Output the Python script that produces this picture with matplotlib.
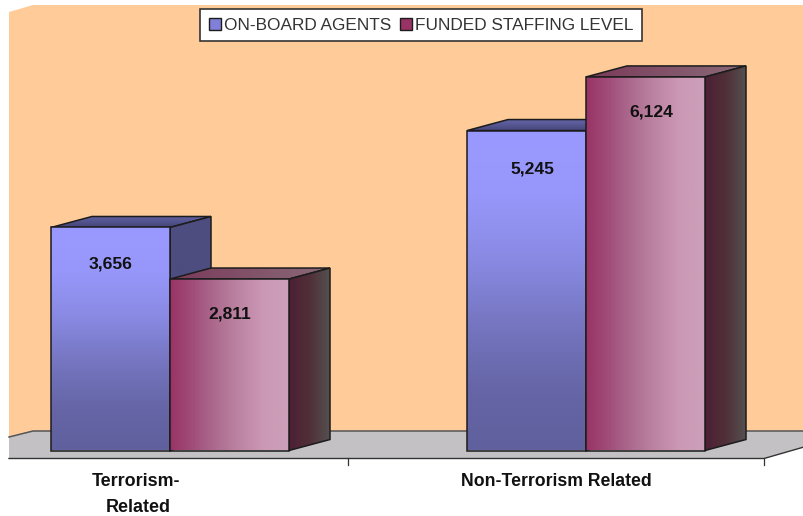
import numpy as np
import matplotlib
matplotlib.use("Agg")
import matplotlib.pyplot as plt
from matplotlib.colors import LinearSegmentedColormap
from matplotlib.patches import Patch, Polygon
from matplotlib.transforms import Affine2D

# Data
categories = ["Terrorism-\nRelated", "Non-Terrorism Related"]
series_names = ["ON-BOARD AGENTS", "FUNDED STAFFING LEVEL"]
on_board = [3656, 5245]
funded = [2811, 6124]

plt.rcParams['font.family'] = ['Liberation Sans', 'DejaVu Sans']

W, H = 804, 516
fig = plt.figure(figsize=(W / 100, H / 100), dpi=100, facecolor="white")
ax = fig.add_axes([0, 0, 1, 1])
ax.axis("off")

# scales: one category = 416 px, one unit = 0.061 px
px_per_cat = 416
px_per_unit = 0.061
ax.set_xlim(-170 / px_per_cat, (W - 170) / px_per_cat)
ax.set_ylim((450.5 - H) / px_per_unit, 450.5 / px_per_unit)
xlim, ylim = ax.get_xlim(), ax.get_ylim()

bar_w = 119 / px_per_cat
depth_x = 41 / px_per_cat
depth_y = 11 / px_per_unit

# pixel coordinates for the walls and floor
px = Affine2D().scale(1 / W, -1 / H).translate(0, 1) + fig.transFigure

LINE = "#1c1c1c"

# back wall
ax.add_patch(Polygon([(9, 12), (33, 5), (804, 5), (804, 432), (33, 432), (9, 437)],
                     closed=True, fc="#FFCC99", ec="none", transform=px, zorder=1))
# floor
ax.add_patch(Polygon([(9, 437), (33, 431), (804, 431), (804, 447), (764, 458), (9, 458)],
                     closed=True, fc="#C3C1C4", ec="none", transform=px, zorder=2))
ax.plot([9, 33, 804], [437, 431, 431], color="#555555", lw=1.1, transform=px, zorder=3)
ax.plot([9, 764, 804], [458.5, 458.5, 447], color="#333333", lw=1.0, transform=px, zorder=3)
for tx in [348, 764]:
    ax.plot([tx, tx], [458, 465], color="#333333", lw=0.9, transform=px, zorder=3)


def shade(poly, colors, vertical, z):
    # gradient clipped to a polygon, with a dark edge on top
    cmap = LinearSegmentedColormap.from_list("g", colors)
    grad = np.linspace(0, 1, 256)
    grad = grad[:, None] if vertical else grad[None, :]
    xs = [p[0] for p in poly]
    ys = [p[1] for p in poly]
    im = ax.imshow(grad, cmap=cmap, aspect="auto", origin="upper", zorder=z,
                   extent=(min(xs), max(xs), min(ys), max(ys)), interpolation="bilinear")
    outline = Polygon(poly, closed=True, fc="none", ec=LINE, lw=1.1, zorder=z + 0.1,
                      joinstyle="miter")
    ax.add_patch(outline)
    im.set_clip_path(Polygon(poly, closed=True, transform=ax.transData))


def bar3d(left, value, front, front_v, top, top_v, side, side_v, z):
    right = left + bar_w
    shade([(left, value), (left + depth_x, value + depth_y),
           (right + depth_x, value + depth_y), (right, value)], top, top_v, z)
    shade([(right, 0), (right + depth_x, depth_y),
           (right + depth_x, value + depth_y), (right, value)], side, side_v, z + 0.2)
    shade([(left, 0), (right, 0), (right, value), (left, value)], front, front_v, z + 0.4)


blue_front = ["#9999FF", "#9797FB", "#8A8AE4", "#7676C2", "#6666A8", "#60609E"]
blue_top = ["#6464A6", "#45457A"]
blue_side = ["#4D4D80", "#4D4D80"]
red_front = ["#993366", "#A14F7A", "#AE6E90", "#BE86A5", "#CC99B5", "#CCA0BA"]
red_top = ["#7A3A5A", "#8A6A78"]
red_side = ["#4D1F36", "#503038", "#555050"]

# the second group's labels sit a little right of the bar centres
label_shift = [0, 6 / px_per_cat]

for i in range(len(categories)):
    z = 5 + i * 5
    bar3d(i - bar_w, on_board[i], blue_front, True, blue_top, True, blue_side, False, z)
    bar3d(i, funded[i], red_front, False, red_top, False, red_side, False, z + 1)
    ax.text(i - bar_w / 2 + label_shift[i], on_board[i] - 600 - 30 * i, f"{on_board[i]:,}",
            ha="center", va="center", fontsize=12.6, fontweight="bold", color="#111111", zorder=30)
    ax.text(i + bar_w / 2 + label_shift[i], funded[i] - 580, f"{funded[i]:,}",
            ha="center", va="center", fontsize=12.6, fontweight="bold", color="#111111", zorder=30)

ax.set_xlim(xlim)
ax.set_ylim(ylim)

# category labels
ax.text(136, 482, "Terrorism-", ha="center", va="center", fontsize=12.9, fontweight="bold",
        color="#111111", transform=px, zorder=30)
ax.text(138, 508, "Related", ha="center", va="center", fontsize=12.9, fontweight="bold",
        color="#111111", transform=px, zorder=30)
ax.text(556.5, 482, categories[1], ha="center", va="center", fontsize=12.7, fontweight="bold",
        color="#111111", transform=px, zorder=30)

handles = [Patch(fc="#8080D8", ec=LINE, lw=1), Patch(fc="#993366", ec=LINE, lw=1)]
leg = ax.legend(handles, series_names, ncol=2, loc="upper left",
                bbox_to_anchor=(200 / W, 1 - 9 / H), bbox_transform=fig.transFigure,
                fontsize=12.4, frameon=True, fancybox=False, framealpha=1, edgecolor="#333333",
                handlelength=0.7, handleheight=0.7, handletextpad=0.2, columnspacing=0.5,
                borderaxespad=0, borderpad=0.5)
leg.get_frame().set_linewidth(1.2)
leg.set_zorder(40)
for t in leg.get_texts():
    t.set_color("#333333")

fig.savefig("out.png", dpi=100, facecolor="white")
